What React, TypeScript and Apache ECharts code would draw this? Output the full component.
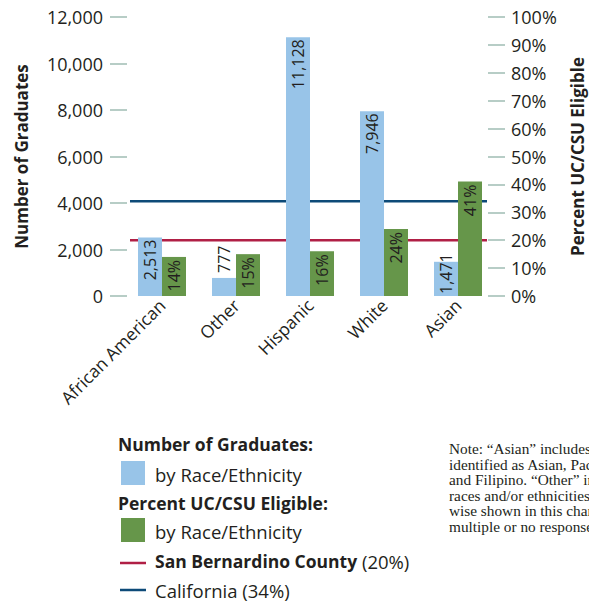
import React, { useEffect, useRef } from "react";
import * as echarts from "echarts";

const categories = ["African American", "Other", "Hispanic", "White", "Asian"];
const graduates = [2513, 777, 11128, 7946, 1471];
const eligiblePct = [14, 15, 16, 24, 41];
const countyName = "San Bernardino County";
const countyPct = 20;
const stateName = "California";
const statePct = 34;
const leftMax = 12000;
const leftInterval = 2000;
const rightMax = 100;
const rightInterval = 10;
const noteLines = [
  "Note: \u201CAsian\u201D includes students",
  "identified as Asian, Pacific Islander,",
  "and Filipino. \u201COther\u201D includes",
  "races and/or ethnicities not other-",
  "wise shown in this chart, including",
  "multiple or no responses.",
];

const FONT = "'Open Sans', 'Noto Sans', sans-serif";
const TXT = "#231f20";
const BLUE = "#98c4e8";
const GREEN = "#66964a";
const RED = "#b01f45";
const NAVY = "#0d4a78";
const TICK = "#9fbcb3";
const AXIS_FS = 18;
const XLBL_FS = 17.5;
const BOLD_FS = 17.5;
const REG_FS = 18.5;
const NOTE_FS = 15.3;
const NOTE_LH = 15.5;

function gradLabel(v: number) {
  if (v >= 2000) return { position: "insideTop", align: "right", distance: 2 };
  if (v >= 1000) return { position: "insideBottom", align: "left", distance: 2 };
  return { position: "top", align: "left", distance: 5 };
}

export default function App() {
  const ref = useRef<HTMLDivElement>(null);
  useEffect(() => {
    document.body.style.margin = "0";
    const chart = echarts.init(ref.current!, null, { renderer: "svg" });
    const axisText = { color: TXT, fontFamily: FONT, fontSize: AXIS_FS };
    const titleText = { color: TXT, fontFamily: FONT, fontSize: 17, fontWeight: "bold" };
    const option: any = {
      animation: false,
      grid: [
        { left: 125, right: 94, top: 17, height: 279, outerBoundsMode: "none", containLabel: false },
        { left: 130, right: 102, top: 17, height: 279, outerBoundsMode: "none", containLabel: false },
      ],
      xAxis: [
        {
          type: "category",
          gridIndex: 0,
          data: categories,
          axisLine: { show: false },
          axisTick: { show: false },
          axisLabel: { color: TXT, fontFamily: FONT, fontSize: XLBL_FS, rotate: 45, margin: 6, interval: 0 },
        },
        { type: "value", gridIndex: 1, min: 0, max: 1, show: false },
      ],
      yAxis: [
        {
          type: "value",
          gridIndex: 0,
          position: "left",
          offset: -2,
          min: 0,
          max: leftMax,
          interval: leftInterval,
          splitLine: { show: false },
          axisLine: { show: false },
          axisTick: { show: true, length: 17, lineStyle: { color: TICK, width: 1.5 } },
          axisLabel: {
            ...axisText,
            margin: 24,
            formatter: (v: number) => v.toLocaleString("en-US"),
          },
          name: "Number of Graduates",
          nameLocation: "middle",
          nameRotate: 90,
          nameGap: 97,
          nameTextStyle: titleText,
        },
        {
          type: "value",
          gridIndex: 0,
          position: "right",
          offset: -7,
          min: 0,
          max: rightMax,
          interval: rightInterval,
          splitLine: { show: false },
          axisLine: { show: false },
          axisTick: { show: true, length: 17, lineStyle: { color: TICK, width: 1.5 } },
          axisLabel: { ...axisText, margin: 23, formatter: "{value}%" },
          name: "Percent UC/CSU Eligible",
          nameLocation: "middle",
          nameRotate: 90,
          nameGap: 81,
          nameTextStyle: titleText,
        },
        { type: "value", gridIndex: 1, min: 0, max: rightMax, show: false },
      ],
      series: [
        {
          type: "bar",
          name: "Number of Graduates",
          xAxisIndex: 0,
          yAxisIndex: 0,
          barWidth: 24,
          barGap: "0%",
          itemStyle: { color: BLUE },
          data: graduates.map((v) => ({
            value: v,
            label: {
              show: true,
              rotate: 90,
              verticalAlign: "middle",
              color: TXT,
              fontFamily: FONT,
              fontSize: 16,
              formatter: (p: any) => Number(p.value).toLocaleString("en-US"),
              ...gradLabel(v),
            },
          })),
        },
        {
          type: "bar",
          name: "Percent UC/CSU Eligible",
          xAxisIndex: 0,
          yAxisIndex: 1,
          barWidth: 24,
          barGap: "0%",
          itemStyle: { color: GREEN },
          label: {
            show: true,
            position: "insideTop",
            rotate: 90,
            align: "right",
            verticalAlign: "middle",
            distance: 3,
            color: TXT,
            fontFamily: FONT,
            fontSize: 16,
            formatter: "{c}%",
          },
          data: eligiblePct,
        },
        {
          type: "line",
          name: countyName,
          xAxisIndex: 1,
          yAxisIndex: 2,
          symbol: "none",
          lineStyle: { color: RED, width: 2.5 },
          data: [
            [0, countyPct],
            [1, countyPct],
          ],
          z: 1,
        },
        {
          type: "line",
          name: stateName,
          xAxisIndex: 1,
          yAxisIndex: 2,
          symbol: "none",
          lineStyle: { color: NAVY, width: 2.5 },
          data: [
            [0, statePct],
            [1, statePct],
          ],
          z: 1,
        },
      ],
      graphic: [
        {
          type: "text",
          x: 118,
          y: 444,
          style: { text: "Number of Graduates:", fill: TXT, font: `bold ${BOLD_FS}px ${FONT}`, verticalAlign: "middle" },
        },
        { type: "rect", shape: { x: 121, y: 461, width: 24, height: 24 }, style: { fill: BLUE } },
        {
          type: "text",
          x: 155,
          y: 474.5,
          style: { text: "by Race/Ethnicity", fill: TXT, font: `${REG_FS}px ${FONT}`, verticalAlign: "middle" },
        },
        {
          type: "text",
          x: 118,
          y: 503,
          style: { text: "Percent UC/CSU Eligible:", fill: TXT, font: `bold ${BOLD_FS}px ${FONT}`, verticalAlign: "middle" },
        },
        { type: "rect", shape: { x: 121, y: 518, width: 24, height: 24 }, style: { fill: GREEN } },
        {
          type: "text",
          x: 155,
          y: 531,
          style: { text: "by Race/Ethnicity", fill: TXT, font: `${REG_FS}px ${FONT}`, verticalAlign: "middle" },
        },
        {
          type: "line",
          shape: { x1: 120, y1: 563, x2: 146, y2: 563 },
          style: { stroke: RED, lineWidth: 2.5 },
        },
        {
          type: "text",
          x: 155,
          y: 561,
          style: {
            text: `{b|${countyName}}{r| (${countyPct}%)}`,
            fill: TXT,
            verticalAlign: "middle",
            rich: {
              b: { fontWeight: "bold", fontSize: BOLD_FS, fontFamily: FONT, fill: TXT },
              r: { fontSize: REG_FS, fontFamily: FONT, fill: TXT },
            },
          },
        },
        {
          type: "line",
          shape: { x1: 120, y1: 590, x2: 146, y2: 590 },
          style: { stroke: NAVY, lineWidth: 2.5 },
        },
        {
          type: "text",
          x: 155,
          y: 590,
          style: { text: `${stateName} (${statePct}%)`, fill: TXT, font: `${REG_FS}px ${FONT}`, verticalAlign: "middle" },
        },
        ...noteLines.map((line, i) => ({
          type: "text",
          x: 449,
          y: 448.5 + i * NOTE_LH,
          style: {
            text: line,
            fill: TXT,
            font: `${NOTE_FS}px 'Liberation Serif', 'DejaVu Serif', serif`,
            verticalAlign: "middle",
          },
        })),
      ],
    };
    chart.setOption(option);
    return () => chart.dispose();
  }, []);
  return <div ref={ref} style={{ width: 589, height: 602 }} />;
}
